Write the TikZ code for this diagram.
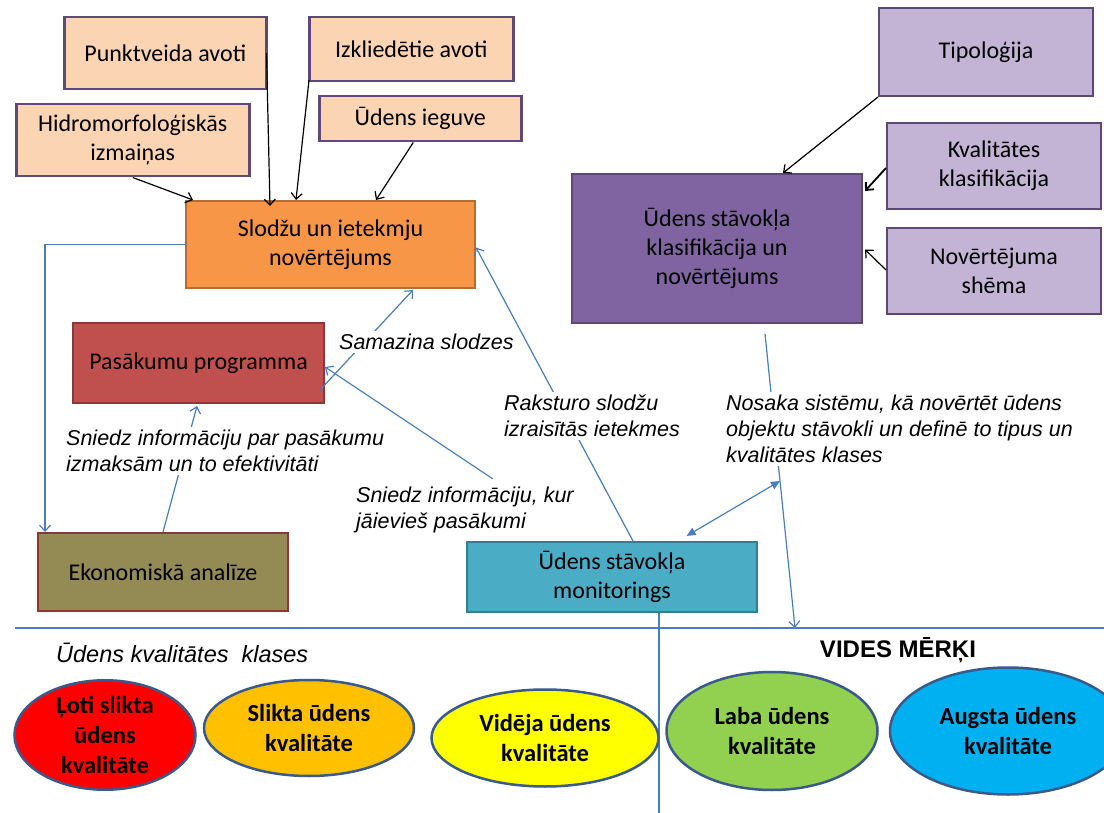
\documentclass[tikz,border=0pt]{standalone}
\usepackage{fontspec}
\setmainfont{Carlito}
\newfontfamily\arialf{Liberation Sans}
\usetikzlibrary{arrows.meta,calc,shapes.geometric}
\definecolor{peach}{HTML}{FBD4B4}
\definecolor{peachbd}{HTML}{5F497A}
\definecolor{orangef}{HTML}{F79646}
\definecolor{orangebd}{HTML}{B66D31}
\definecolor{redf}{HTML}{C0504D}
\definecolor{redbd}{HTML}{8C3836}
\definecolor{olivef}{HTML}{948A54}
\definecolor{tealf}{HTML}{4BACC6}
\definecolor{tealbd}{HTML}{357D91}
\definecolor{purplef}{HTML}{8064A2}
\definecolor{purplebd}{HTML}{5C4776}
\definecolor{lilac}{HTML}{C3B4D6}
\definecolor{linecol}{HTML}{4A7EBB}
\definecolor{ellbd}{HTML}{3A5A8C}
\definecolor{q1}{HTML}{FF0000}
\definecolor{q2}{HTML}{FFC000}
\definecolor{q3}{HTML}{FFFF00}
\definecolor{q4}{HTML}{92D050}
\definecolor{q5}{HTML}{00B0F0}
\begin{document}
\begin{tikzpicture}[x=1pt,y=-1pt,
  box/.style={draw, line width=2pt, align=center, inner sep=2pt, anchor=north west,
    font=\fontsize{24}{29}\selectfont},
  peachbox/.style={box, fill=peach, draw=peachbd, line width=2.5pt},
  lilacbox/.style={box, fill=lilac, draw=purplebd},
  qual/.style={ellipse, draw=ellbd, line width=2.5pt, inner sep=0pt, align=center,
    font=\bfseries\fontsize{24.5}{30}\selectfont},
  lbl/.style={fill=white, inner sep=3pt, align=left, anchor=west,
    font=\arialf\itshape\fontsize{21.5}{26}\selectfont},
  blk/.style={draw=black, line width=1.2pt, -{Straight Barb[length=6pt,width=11pt]}},
  blu/.style={draw=linecol, line width=1.2pt, -{Straight Barb[length=6pt,width=11pt]}},
  blun/.style={draw=linecol, line width=1.2pt},
  dbl/.style={draw=linecol, line width=1.2pt, {Triangle[length=9pt,width=8pt]}-{Triangle[length=9pt,width=8pt]}}
]
\fill[white] (0,0) rectangle (1104,813);
\useasboundingbox (0,0) rectangle (1104,813);

% boxes
\node[peachbox, minimum width=202pt, minimum height=72pt] (punkt) at (63,16) {Punktveida avoti};
\node[peachbox, minimum width=204pt, minimum height=64pt] (izkl) at (308,16) {Izkliedētie avoti};
\node[peachbox, minimum width=233pt, minimum height=72pt] (hidro) at (15,103) {Hidromorfoloģiskās\\izmaiņas};
\node[peachbox, minimum width=202pt, minimum height=45pt] (ieguve) at (318,95) {Ūdens ieguve};
\node[box, fill=orangef, draw=orangebd, minimum width=289pt, minimum height=87pt] (slodzu) at (185,200) {Slodžu un ietekmju\\novērtējums};
\node[box, fill=redf, draw=redbd, minimum width=251pt, minimum height=80pt] (pasak) at (72,322) {Pasākumu programma};
\node[box, fill=olivef, draw=redbd, minimum width=250pt, minimum height=78pt] (ekon) at (37,532) {Ekonomiskā analīze};
\node[box, fill=tealf, draw=tealbd, minimum width=290pt, minimum height=70pt] (mon) at (466,541) {Ūdens stāvokļa\\monitorings};
\node[lilacbox, minimum width=214pt, minimum height=88pt] (tipo) at (878,7) {Tipoloģija};
\node[lilacbox, minimum width=214pt, minimum height=86pt] (kval) at (886,122) {Kvalitātes\\klasifikācija};
\node[lilacbox, minimum width=214pt, minimum height=86pt] (novert) at (886,227) {Novērtējuma\\shēma};
\node[box, fill=purplef, draw=purplebd, minimum width=290pt, minimum height=149pt] (stav) at (571,173) {Ūdens stāvokļa\\klasifikācija un\\novērtējums};

% black arrows
\draw[blk] (hidro.south) -- ($(slodzu.north west)+(8,0)$);
\draw[blk] ($(punkt.east)+(-1,0)$) -- ($(slodzu.north west)+(85,6)$);
\draw[blk] ($(izkl.west)+(1,31)$) -- ($(slodzu.north west)+(111,0)$);
\draw[blk] ($(ieguve.south)+(-7,0)$) -- ($(slodzu.north west)+(191,0)$);
\draw[blk] (tipo.south west) -- ($(stav.north west)+(212,0)$);
\draw[blk, line width=1.8pt] ($(kval.west)+(0,2)$) -- ($(stav.north east)+(2,18)$);
\draw[blk] ($(novert.west)+(0,-1)$) -- ($(stav.east)+(2,1)$);

% blue connectors
\coordinate (hl) at (15,628);
\coordinate (hr) at (1104,628);
\coordinate (vb) at (659,813);
\coordinate (goal) at (795,628);
\coordinate (nj) at (780,481);
\draw[blun] (hl) -- (hr);
\draw[blun] ($(mon.south west)+(193,0)$) -- (vb);
\draw[blu] (slodzu.west) -| ($(ekon.north west)+(8,0)$);
\draw[blu] ($(ekon.north west)+(126,0)$) -- ($(pasak.south west)+(125,2)$);
\draw[blu] ($(pasak.south east)+(-5,-14)$) -- ($(slodzu.south west)+(228,1)$);
\draw[blu, shorten <=112pt] ($(mon.north west)+(120,0)$) -- ($(pasak.east)+(0,4)$);
\draw[blu] ($(mon.north west)+(167,0)$) -- ($(slodzu.east)+(0,3)$);
\draw[blu, shorten <=10pt] ($(stav.south west)+(193,0)$) -- (goal);
\draw[dbl, shorten >=10pt] (nj) -- ($(mon.north west)+(212,0)$);

% labels
\node[lbl] (l1) at (336,342) {Samazina slodzes};
\node[lbl] (l2) at (501,416) {Raksturo slodžu\\izraisītās ietekmes};
\node[lbl] (l3) at (723,429) {Nosaka sistēmu, kā novērtēt ūdens\\objektu stāvokli un definē to tipus un\\kvalitātes klases};
\node[lbl] (l4) at (353,510) {Sniedz informāciju, kur\\jāievieš pasākumi};
\node[lbl] (l5) at (63,451) {Sniedz informāciju par pasākumu\\izmaksām un to efektivitāti};
\node[anchor=west, inner sep=0pt, font=\arialf\itshape\fontsize{23.5}{28}\selectfont] (klases) at (56,653) {Ūdens kvalitātes\ \ klases};
\node[inner sep=0pt, font=\arialf\bfseries\fontsize{24}{28}\selectfont] (vides) at (898,650) {VIDES MĒRĶI};

% quality ellipses
\node[qual, fill=q1, minimum width=181pt, minimum height=103pt] (e1) at (105,735) {Ļoti slikta\\ūdens\\kvalitāte};
\node[qual, fill=q2, minimum width=210pt, minimum height=96pt] (e2) at (309,728) {Slikta ūdens\\kvalitāte};
\node[qual, fill=q3, minimum width=227pt, minimum height=97pt] (e3) at (545,738) {Vidēja ūdens\\kvalitāte};
\node[qual, fill=q4, minimum width=211pt, minimum height=118pt] (e4) at (772,731) {Laba ūdens\\kvalitāte};
\node[qual, fill=q5, minimum width=236pt, minimum height=127pt] (e5) at (1008,731) {Augsta ūdens\\kvalitāte};
\end{tikzpicture}
\end{document}
